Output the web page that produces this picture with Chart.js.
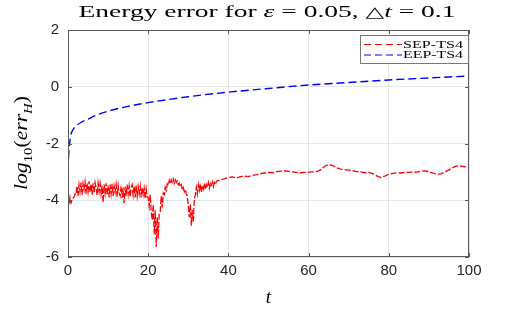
<!DOCTYPE html>
<html lang="en">
<head>
<meta charset="UTF-8">
<title>Energy error</title>
<style>
  * { margin: 0; padding: 0; box-sizing: border-box; }
  html, body { width: 518px; height: 311px; background: #fff; overflow: hidden; }
  .container { position: relative; width: 518px; height: 311px; }
</style>
<script src="https://cdn.jsdelivr.net/npm/chart.js@4"></script>
</head>
<body>
<div class="container"><canvas id="errChart" width="518" height="311"></canvas></div>
<script>
const xTicks = [0, 20, 40, 60, 80, 100];
const yTicks = [-6, -4, -2, 0, 2];
const seriesNames = ['SEP-TS4', 'EEP-TS4'];

// SEP-TS4, noisy part: t = 0 .. 37, one value every 0.25
const sepFineStep = 0.25;
const sepFine = [
  -3.65, -4.15, -3.90, -4.10,  -4.02, -3.92, -3.88, -3.78,
  -3.80, -3.50, -3.85, -3.45,  -3.70, -3.38, -3.80, -3.42,
  -3.62, -3.35, -3.78, -3.40,  -3.70, -3.33, -3.72, -3.42,
  -3.80, -3.40, -3.75, -3.38,  -3.55, -3.82, -3.40, -3.70,
  -3.42, -3.78, -3.48, -4.08,  -3.45, -3.75, -3.40, -3.82,
  -3.48, -3.90, -3.45, -3.78,  -3.42, -3.85, -3.50, -3.72,
  -3.45, -3.88, -3.48, -3.75,  -3.85, -3.50, -3.92, -3.55,
  -4.10, -3.52, -3.85, -3.45,  -3.80, -3.50, -3.88, -3.55,
  -3.45, -3.82, -3.50, -3.90,  -3.48, -3.85, -3.52, -3.78,
  -3.50, -3.90, -3.55, -3.80,  -3.58, -3.95, -3.60, -3.88,
  -3.90, -4.20, -3.80, -4.40,  -4.70, -4.15, -5.20, -4.35,
  -5.65, -4.60, -5.35, -4.45,  -4.40, -3.85, -4.25, -3.75,
  -3.80, -3.55, -3.65, -3.42,  -3.48, -3.30, -3.42, -3.28,
  -3.36, -3.25, -3.40, -3.28,  -3.38, -3.32, -3.45, -3.40,
  -3.52, -3.45, -3.62, -3.55,  -3.70, -3.62, -3.78, -3.85,
  -4.20, -4.60, -4.15, -4.90,  -4.35, -4.75, -3.95, -3.80,
  -3.55, -3.78, -3.45, -3.65,  -3.42, -3.72, -3.48, -3.60,
  -3.40, -3.62, -3.45, -3.55,  -3.38, -3.58, -3.42, -3.50,
  -3.36, -3.52, -3.38, -3.45,  -3.33
];
// SEP-TS4, smooth part: t = 38 .. 100, one value per unit
const sepCoarseStart = 38;
const sepCoarse = [
  -3.28, -3.25, -3.20, -3.18, -3.22, -3.17, -3.15, -3.17, -3.12, -3.10,
  -3.06, -3.04, -3.02, -3.03, -2.99, -2.97, -2.96, -2.98, -3.00, -3.02,
  -3.03, -3.02, -3.01, -3.00, -2.99, -2.93, -2.80, -2.74, -2.78, -2.86,
  -2.90, -2.92, -2.94, -2.96, -2.99, -3.00, -3.03, -3.02, -3.06, -3.14,
  -3.20, -3.15, -3.08, -3.05, -3.03, -3.04, -3.02, -3.02, -3.00, -3.01,
  -2.98, -2.97, -2.99, -3.04, -3.08, -3.07, -3.00, -2.93, -2.84, -2.79,
  -2.80, -2.82, -2.82
];

// EEP-TS4
const eepT = [0, 0.1, 0.25, 0.45, 0.7, 1, 1.5, 2.2, 3.2, 5, 7.3, 10, 15, 20, 25, 30, 40, 50, 60, 70, 80, 90, 100];
const eepErr = [-2.95, -2.6, -2.2, -1.95, -1.7, -1.58, -1.46, -1.36, -1.26, -1.14, -0.99, -0.86, -0.69, -0.56, -0.45, -0.35, -0.19, -0.06, 0.06, 0.15, 0.24, 0.31, 0.38];

const sepPoints = sepFine.map((v, i) => ({ x: i * sepFineStep, y: v }))
  .concat(sepCoarse.map((v, i) => ({ x: sepCoarseStart + i, y: v })));
const eepPoints = eepT.map((t, i) => ({ x: t, y: eepErr[i] }));

const axisGray = '#5a5a5a';
const textGray = '#262626';

// draw text horizontally scaled to a given width (LaTeX fonts are wide)
function fillStretched(ctx, parts, x0, y0, width) {
  let w = 0;
  parts.forEach(p => { ctx.font = p.font; w += ctx.measureText(p.text).width; });
  ctx.save();
  ctx.translate(x0, y0);
  ctx.scale(width / w, 1);
  let x = 0;
  parts.forEach(p => {
    ctx.font = p.font;
    ctx.fillText(p.text, x, p.dy || 0);
    x += ctx.measureText(p.text).width;
  });
  ctx.restore();
}

// title, y label, legend, box and inward ticks (MATLAB look)
const decor = {
  id: 'decor',
  afterDatasetsDraw(chart) {
    const { ctx, chartArea: a, scales } = chart;
    ctx.save();
    ctx.strokeStyle = axisGray;
    ctx.lineWidth = 1;
    ctx.strokeRect(a.left + 0.5, a.top + 0.5, a.right - a.left - 1, a.bottom - a.top - 1);
    ctx.beginPath();
    xTicks.forEach(v => {
      const px = Math.round(scales.x.getPixelForValue(v)) + 0.5;
      ctx.moveTo(px, a.bottom); ctx.lineTo(px, a.bottom - 4);
      ctx.moveTo(px, a.top); ctx.lineTo(px, a.top + 4);
    });
    yTicks.forEach(v => {
      const py = Math.round(scales.y.getPixelForValue(v)) + 0.5;
      ctx.moveTo(a.left, py); ctx.lineTo(a.left + 4, py);
      ctx.moveTo(a.right, py); ctx.lineTo(a.right - 4, py);
    });
    ctx.stroke();
    ctx.restore();
  },
  afterDraw(chart) {
    const { ctx } = chart;
    ctx.save();
    ctx.fillStyle = '#000';
    ctx.textBaseline = 'alphabetic';
    ctx.textAlign = 'left';

    // title with italic math symbols
    const tFont = '17px "Liberation Serif"', tItal = 'italic 17px "Liberation Serif"';
    fillStretched(ctx, [
      { text: 'Energy error for ', font: tFont },
      { text: '\u03b5', font: tItal },
      { text: ' = 0.05, ', font: tFont },
      { text: '\u25b3', font: '15px "DejaVu Sans"' },
      { text: 't', font: tItal },
      { text: ' = 0.1', font: tFont }
    ], 267 - 377 / 2, 17, 377);

    // y axis label: log10(errH)
    ctx.save();
    ctx.translate(27, 143);
    ctx.rotate(-Math.PI / 2);
    fillStretched(ctx, [
      { text: 'log', font: 'italic 19px "Liberation Serif"' },
      { text: '10', font: '13px "Liberation Serif"', dy: 5 },
      { text: '(', font: '19px "Liberation Serif"' },
      { text: 'err', font: 'italic 19px "Liberation Serif"' },
      { text: 'H', font: 'italic 13px "Liberation Serif"', dy: 5 },
      { text: ')', font: '19px "Liberation Serif"' }
    ], -47, 0, 94);
    ctx.restore();

    // legend box, top right inside axes
    const bx = 360, by = 35, bw = 108, bh = 28;
    ctx.fillStyle = '#fff';
    ctx.fillRect(bx, by, bw, bh);
    ctx.strokeStyle = '#777';
    ctx.lineWidth = 1;
    ctx.strokeRect(bx + 0.5, by + 0.5, bw, bh);
    chart.data.datasets.forEach((ds, i) => {
      const ly = by + 9.5 + i * 10.5;
      ctx.strokeStyle = ds.borderColor;
      ctx.lineWidth = 1.2;
      ctx.setLineDash([7, 4]);
      ctx.beginPath();
      ctx.moveTo(bx + 4, ly);
      ctx.lineTo(bx + 42, ly);
      ctx.stroke();
      ctx.setLineDash([]);
      ctx.fillStyle = '#000';
      ctx.textBaseline = 'middle';
      fillStretched(ctx, [{ text: ds.label, font: '10px "Liberation Serif"' }], bx + 43, ly + 0.5, 60);
    });
    ctx.restore();
  }
};

new Chart(document.getElementById('errChart'), {
  type: 'line',
  data: {
    datasets: [
      {
        label: seriesNames[0],
        data: sepPoints,
        borderColor: '#ff0000',
        borderWidth: 1.3,
        borderDash: [6, 2],
        pointRadius: 0,
        tension: 0,
        fill: false
      },
      {
        label: seriesNames[1],
        data: eepPoints,
        borderColor: '#0000ff',
        borderWidth: 1.4,
        borderDash: [8, 4],
        pointRadius: 0,
        cubicInterpolationMode: 'monotone',
        fill: false
      }
    ]
  },
  options: {
    responsive: false,
    animation: false,
    devicePixelRatio: 1,
    layout: { padding: { top: 30, right: 49, left: 0, bottom: 0 } },
    plugins: {
      legend: { display: false },
      title: { display: false },
      tooltip: { enabled: false }
    },
    scales: {
      x: {
        type: 'linear',
        min: 0,
        max: 100,
        afterFit: s => { s.height = 54; },
        afterBuildTicks: s => { s.ticks = xTicks.map(v => ({ value: v })); },
        grid: { color: '#e6e6e6', drawTicks: false },
        border: { display: false },
        ticks: {
          padding: 5,
          color: textGray,
          font: { family: '"Liberation Sans"', size: 15 },
          maxRotation: 0
        },
        title: {
          display: true,
          text: 't',
          color: '#000',
          font: { family: '"Liberation Serif"', style: 'italic', size: 19 },
          padding: { top: 0, bottom: 2 }
        }
      },
      y: {
        min: -6,
        max: 2,
        afterFit: s => { s.width = 68; },
        afterBuildTicks: s => { s.ticks = yTicks.map(v => ({ value: v })); },
        grid: { color: '#e6e6e6', drawTicks: false },
        border: { display: false },
        ticks: {
          padding: 9,
          color: textGray,
          font: { family: '"Liberation Sans"', size: 15 }
        }
      }
    }
  },
  plugins: [decor]
});
</script>
</body>
</html>
